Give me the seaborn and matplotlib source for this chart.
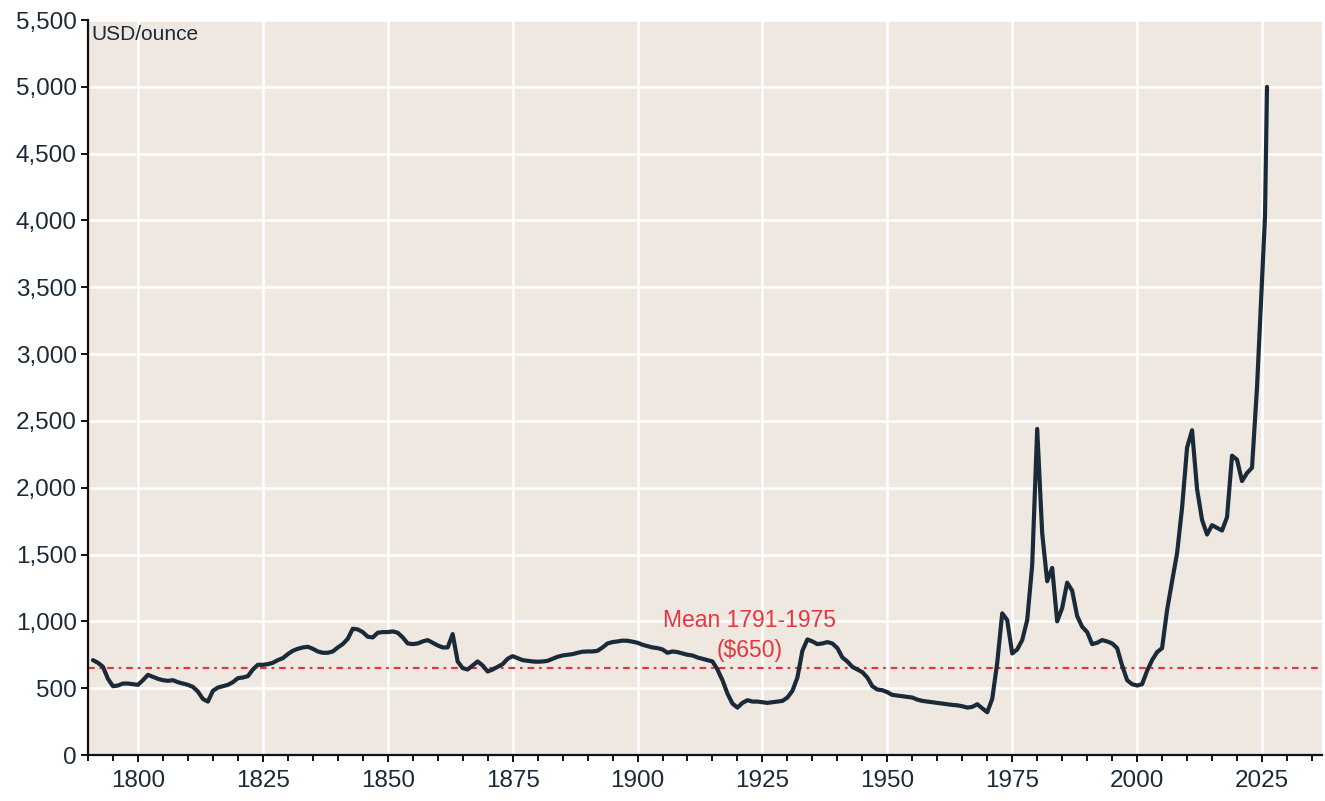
import numpy as np
import pandas as pd
import matplotlib
matplotlib.use("Agg")
import matplotlib.pyplot as plt
import seaborn as sns
from matplotlib.ticker import MultipleLocator, FuncFormatter

years = [1791, 1792, 1793, 1794, 1795, 1796, 1797, 1798, 1799, 1800,
         1801, 1802, 1803, 1804, 1805, 1806, 1807, 1808, 1809, 1810,
         1811, 1812, 1813, 1814, 1815, 1816, 1817, 1818, 1819, 1820,
         1821, 1822, 1823, 1824, 1825, 1826, 1827, 1828, 1829, 1830,
         1831, 1832, 1833, 1834, 1835, 1836, 1837, 1838, 1839, 1840,
         1841, 1842, 1843, 1844, 1845, 1846, 1847, 1848, 1849, 1850,
         1851, 1852, 1853, 1854, 1855, 1856, 1857, 1858, 1859, 1860,
         1861, 1862, 1863, 1864, 1865, 1866, 1867, 1868, 1869, 1870,
         1871, 1872, 1873, 1874, 1875, 1876, 1877, 1878, 1879, 1880,
         1881, 1882, 1883, 1884, 1885, 1886, 1887, 1888, 1889, 1890,
         1891, 1892, 1893, 1894, 1895, 1896, 1897, 1898, 1899, 1900,
         1901, 1902, 1903, 1904, 1905, 1906, 1907, 1908, 1909, 1910,
         1911, 1912, 1913, 1914, 1915, 1916, 1917, 1918, 1919, 1920,
         1921, 1922, 1923, 1924, 1925, 1926, 1927, 1928, 1929, 1930,
         1931, 1932, 1933, 1934, 1935, 1936, 1937, 1938, 1939, 1940,
         1941, 1942, 1943, 1944, 1945, 1946, 1947, 1948, 1949, 1950,
         1951, 1952, 1953, 1954, 1955, 1956, 1957, 1958, 1959, 1960,
         1961, 1962, 1963, 1964, 1965, 1966, 1967, 1968, 1969, 1970,
         1971, 1972, 1973, 1974, 1975, 1976, 1977, 1978, 1979, 1980,
         1981, 1982, 1983, 1984, 1985, 1986, 1987, 1988, 1989, 1990,
         1991, 1992, 1993, 1994, 1995, 1996, 1997, 1998, 1999, 2000,
         2001, 2002, 2003, 2004, 2005, 2006, 2007, 2008, 2009, 2010,
         2011, 2012, 2013, 2014, 2015, 2016, 2017, 2018, 2019, 2020,
         2021, 2022, 2023, 2024, 2025, 2025.6, 2026]
price = [710, 690, 660, 570, 515, 520, 535, 535, 530, 525,
         560, 600, 585, 570, 560, 555, 560, 545, 535, 525,
         510, 475, 420, 400, 480, 505, 515, 525, 545, 575,
         580, 590, 640, 675, 675, 680, 690, 710, 725, 755,
         780, 795, 805, 810, 795, 775, 765, 765, 775, 805,
         830, 870, 945, 940, 920, 885, 880, 915, 920, 920,
         925, 915, 880, 835, 830, 835, 850, 860, 840, 820,
         805, 805, 905, 700, 650, 640, 670, 700, 670, 625,
         640, 660, 680, 720, 740, 725, 710, 705, 700, 698,
         700, 705, 720, 735, 745, 750, 755, 765, 773, 775,
         775, 780, 805, 835, 845, 850, 856, 855, 848, 840,
         825, 815, 805, 800, 790, 765, 775, 770, 760, 750,
         745, 730, 720, 710, 700, 640, 560, 460, 385, 355,
         390, 410, 400, 400, 395, 390, 395, 400, 405, 430,
         480, 580, 780, 865, 850, 830, 835, 845, 835, 800,
         730, 700, 660, 640, 620, 580, 515, 490, 485, 470,
         450, 445, 440, 435, 430, 415, 405, 400, 395, 390,
         385, 380, 375, 372, 365, 355, 360, 380, 350, 320,
         420, 690, 1060, 1010, 760, 790, 860, 1010, 1420, 2440,
         1660, 1300, 1400, 1000, 1100, 1290, 1230, 1040, 960, 920,
         830, 840, 860, 850, 835, 800, 670, 560, 530, 520,
         530, 630, 710, 770, 800, 1085, 1300, 1510, 1850, 2300,
         2430, 1990, 1760, 1650, 1720, 1700, 1680, 1780, 2240, 2210,
         2050, 2110, 2150, 2750, 3550, 4030, 5000]

mean_value = 650
mean_label = "Mean 1791-1975\n($650)"
unit_label = "USD/ounce"

df = pd.DataFrame({"year": years, "price": price})

sns.set_theme(style="white")
plt.rcParams["font.family"] = ["Liberation Sans", "DejaVu Sans"]

fig = plt.figure(figsize=(13.25, 8.01), dpi=100)
ax = fig.add_axes([0.0664, 0.0574, 0.9313, 0.9176])
ax.set_facecolor("#EEE8E1")

sns.lineplot(data=df, x="year", y="price", ax=ax, color="#1B2A38",
             linewidth=3.0, zorder=3)

ax.axhline(mean_value, color="#E8343E", linewidth=1.6,
           linestyle=(0, (3, 2.2, 1.2, 2.2)), zorder=2)
ax.text(1922.5, 695, mean_label, color="#E8343E", fontsize=16.5,
        ha="center", va="bottom", linespacing=1.4)
ax.text(1790.7, 5460, unit_label, color="#1B2A38", fontsize=15,
        ha="left", va="top")

ax.set_xlim(1790, 2037)
ax.set_ylim(0, 5500)
ax.xaxis.set_major_locator(MultipleLocator(25))
ax.xaxis.set_minor_locator(MultipleLocator(5))
ax.set_xticks([1800, 1825, 1850, 1875, 1900, 1925, 1950, 1975, 2000, 2025])
ax.yaxis.set_major_locator(MultipleLocator(500))
ax.yaxis.set_major_formatter(FuncFormatter(lambda v, p: f"{int(v):,}"))

ax.grid(True, which="major", color="white", linewidth=1.8, zorder=0)
ax.set_axisbelow(True)
for side in ["top", "right"]:
    ax.spines[side].set_visible(False)
for side in ["left", "bottom"]:
    ax.spines[side].set_color("#111111")
    ax.spines[side].set_linewidth(1.6)

ax.tick_params(axis="both", which="major", direction="out", length=5,
               width=1.4, color="#111111", labelsize=17.5,
               labelcolor="#1B2A38", left=True, bottom=True)
ax.tick_params(axis="x", which="minor", direction="out", length=4,
               width=1.4, color="#111111", bottom=True)
ax.tick_params(axis="x", pad=6)
ax.tick_params(axis="y", pad=3)
ax.set_xlabel("")
ax.set_ylabel("")

fig.savefig("out.png", dpi=100, facecolor="white")
